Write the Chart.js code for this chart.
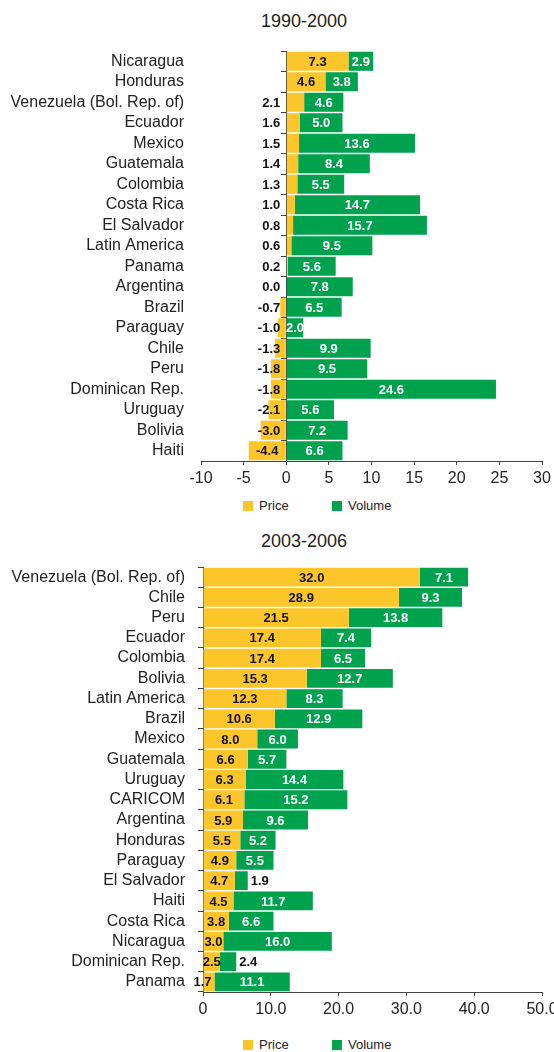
<!DOCTYPE html>
<html lang="en">
<head>
    <meta charset="UTF-8">
    <title>Export growth: price and volume</title>
    <script src="https://cdn.jsdelivr.net/npm/chart.js@4.4.4/dist/chart.umd.min.js"></script>
    <style>
        body { margin: 0; width: 554px; height: 1052px; overflow: hidden; background: #fff;
               font-family: "Liberation Sans", Arial, sans-serif; color: #222; }
        .box { position: absolute; left: 0; width: 554px; }
        .title { position: absolute; left: 54px; width: 500px; text-align: center; font-size: 18px; line-height: 20px; }
        .legend { position: absolute; left: 0; width: 554px; height: 16px; font-size: 13px; line-height: 16px; }
        .legend span.sw { position: absolute; top: 3px; width: 10px; height: 10px; }
        .legend span.tx { position: absolute; top: 0; }
    </style>
</head>
<body>
    <div class="title" style="top: 11px;">1990-2000</div>
    <div class="box" style="top: 0; height: 495px;"><canvas id="chart90"></canvas></div>
    <div class="legend" id="legend90" style="top: 498px;"></div>

    <div class="title" style="top: 531px;">2003-2006</div>
    <div class="box" style="top: 520px; height: 502px;"><canvas id="chart03"></canvas></div>
    <div class="legend" id="legend03" style="top: 1037px;"></div>

    <script>
        // 1990-2000
        const countries90 = ['Nicaragua', 'Honduras', 'Venezuela (Bol. Rep. of)', 'Ecuador', 'Mexico', 'Guatemala',
            'Colombia', 'Costa Rica', 'El Salvador', 'Latin America', 'Panama', 'Argentina', 'Brazil', 'Paraguay',
            'Chile', 'Peru', 'Dominican Rep.', 'Uruguay', 'Bolivia', 'Haiti'];
        const price90 = [7.3, 4.6, 2.1, 1.6, 1.5, 1.4, 1.3, 1.0, 0.8, 0.6, 0.2, 0.0, -0.7, -1.0, -1.3, -1.8, -1.8, -2.1, -3.0, -4.4];
        const volume90 = [2.9, 3.8, 4.6, 5.0, 13.6, 8.4, 5.5, 14.7, 15.7, 9.5, 5.6, 7.8, 6.5, 2.0, 9.9, 9.5, 24.6, 5.6, 7.2, 6.6];

        // 2003-2006
        const countries03 = ['Venezuela (Bol. Rep. of)', 'Chile', 'Peru', 'Ecuador', 'Colombia', 'Bolivia',
            'Latin America', 'Brazil', 'Mexico', 'Guatemala', 'Uruguay', 'CARICOM', 'Argentina', 'Honduras',
            'Paraguay', 'El Salvador', 'Haiti', 'Costa Rica', 'Nicaragua', 'Dominican Rep.', 'Panama'];
        const price03 = [32.0, 28.9, 21.5, 17.4, 17.4, 15.3, 12.3, 10.6, 8.0, 6.6, 6.3, 6.1, 5.9, 5.5, 4.9, 4.7, 4.5, 3.8, 3.0, 2.5, 1.7];
        const volume03 = [7.1, 9.3, 13.8, 7.4, 6.5, 12.7, 8.3, 12.9, 6.0, 5.7, 14.4, 15.2, 9.6, 5.2, 5.5, 1.9, 11.7, 6.6, 16.0, 2.4, 11.1];

        const seriesNames = ['Price', 'Volume'];
        const seriesColors = ['#FCC62B', '#00A24E'];
        const axisColor = '#444';

        Chart.defaults.font.family = '"Liberation Sans", Arial, sans-serif';
        Chart.defaults.color = '#222';

        // Value labels written on the bars
        const barLabels = {
            id: 'barLabels',
            afterDatasetsDraw(chart, args, opts) {
                const ctx = chart.ctx;
                const zero = chart.scales.x.getPixelForValue(0);
                ctx.save();
                ctx.font = 'bold 13px "Liberation Sans", Arial, sans-serif';
                ctx.textBaseline = 'middle';
                chart.data.datasets.forEach((ds, di) => {
                    chart.getDatasetMeta(di).data.forEach((bar, i) => {
                        const text = ds.data[i].toFixed(1);
                        const w = ctx.measureText(text).width;
                        const left = Math.min(bar.x, bar.base), right = Math.max(bar.x, bar.base);
                        const span = right - left;
                        let x = (left + right) / 2, align = 'center';
                        let color = di === 0 ? '#111' : '#fff';
                        if (di === 0) {
                            if (opts.priceOutside && span < w + 8) { x = zero - 6; align = 'right'; }
                            else if (!opts.priceOutside && span < w * 0.8) { x = bar.x - 3; align = 'right'; }
                        } else if (opts.volumeOutside && span < w + 2) {
                            x = bar.x + 3; align = 'left'; color = '#111';
                        }
                        ctx.fillStyle = color;
                        ctx.textAlign = align;
                        ctx.fillText(text, x, bar.y + 1);
                    });
                });
                ctx.restore();
            }
        };

        function buildLegend(id) {
            const el = document.getElementById(id);
            const pos = [[243, 259], [332, 348]];
            seriesNames.forEach((name, k) => {
                el.innerHTML += `<span class="sw" style="left:${pos[k][0]}px;background:${seriesColors[k]}"></span>` +
                    `<span class="tx" style="left:${pos[k][1]}px">${name}</span>`;
            });
        }

        function makeChart(canvasId, labels, price, volume, cfg) {
            const scales = {
                x: {
                    stacked: true,
                    min: cfg.min, max: cfg.max,
                    ticks: { stepSize: cfg.step, padding: 4, font: { size: 16 }, color: '#222',
                             callback: cfg.tickFormat },
                    grid: { drawOnChartArea: false, tickLength: 4, color: axisColor },
                    border: { color: axisColor },
                    afterFit(scale) { scale.height = 28; scale.paddingRight = 8; }
                },
                y: {
                    stacked: true,
                    ticks: { padding: cfg.labelPad, font: { size: 16 }, color: '#222', autoSkip: false },
                    grid: { display: cfg.axisAtLeft, drawTicks: cfg.axisAtLeft, drawOnChartArea: false,
                            tickLength: 5, color: axisColor, offset: true },
                    border: { display: cfg.axisAtLeft, color: axisColor },
                    afterFit(scale) { scale.width = cfg.yWidth; }
                }
            };
            if (!cfg.axisAtLeft) {
                // zero line with category ticks, set at x = 0
                scales.y2 = {
                    type: 'category',
                    position: { x: 0 },
                    offset: true,
                    ticks: { display: false },
                    grid: { drawOnChartArea: false, tickLength: 5, color: axisColor, offset: true },
                    border: { color: axisColor }
                };
            }
            return new Chart(document.getElementById(canvasId), {
                type: 'bar',
                data: {
                    labels: labels,
                    datasets: [
                        { label: seriesNames[0], data: price, backgroundColor: seriesColors[0] },
                        { label: seriesNames[1], data: volume, backgroundColor: seriesColors[1] }
                    ]
                },
                options: {
                    indexAxis: 'y',
                    responsive: true,
                    maintainAspectRatio: false,
                    animation: false,
                    barPercentage: 0.93,
                    categoryPercentage: 1,
                    layout: { padding: cfg.padding },
                    scales: scales,
                    plugins: {
                        legend: { display: false },
                        tooltip: { enabled: false },
                        barLabels: { priceOutside: !cfg.axisAtLeft, volumeOutside: cfg.axisAtLeft }
                    }
                },
                plugins: [barLabels]
            });
        }

        makeChart('chart90', countries90, price90, volume90, {
            min: -10, max: 30, step: 5,
            tickFormat: v => v,
            axisAtLeft: false,
            labelPad: 17, yWidth: 199,
            padding: { top: 51, left: 2, right: 12, bottom: 6 }
        });

        makeChart('chart03', countries03, price03, volume03, {
            min: 0, max: 50, step: 10,
            tickFormat: v => v === 0 ? '0' : v.toFixed(1),
            axisAtLeft: true,
            labelPad: 13, yWidth: 201,
            padding: { top: 47, left: 2, right: 12, bottom: 2 }
        });

        buildLegend('legend90');
        buildLegend('legend03');
    </script>
</body>
</html>
